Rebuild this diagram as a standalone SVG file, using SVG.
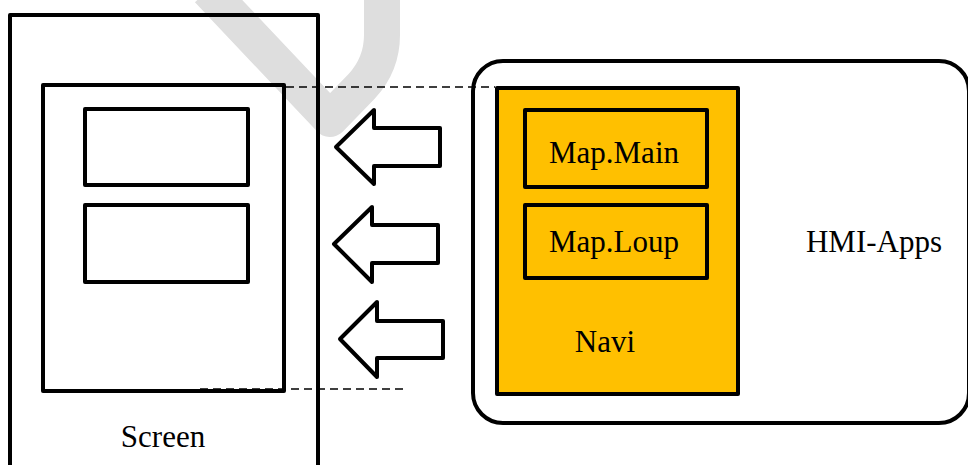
<svg xmlns="http://www.w3.org/2000/svg" width="968" height="465" viewBox="0 0 968 465">
<style>
.box{fill:none;stroke:#000;stroke-width:4;stroke-linejoin:round}
.win{fill:#fff;stroke:#000;stroke-width:4;stroke-linejoin:round}
.navi{fill:#FFC000;stroke:#000;stroke-width:4;stroke-linejoin:round}
.lbl{font-family:"Liberation Serif","Times New Roman",serif;font-size:31px;fill:#000;text-anchor:middle}
.dash{fill:none;stroke:#000;stroke-width:1.5;stroke-dasharray:8 5}
.arrow{fill:#fff;stroke:#000;stroke-width:4;stroke-linejoin:round}
</style>
<rect width="968" height="465" fill="#fff"/>
<path d="M208,-10 L330,119 L362,86 Q382,64 382,35 L382,-10" fill="none" stroke="#DEDEDE" stroke-width="36" stroke-linejoin="round"/>
<g id="screen">
<rect class="box" x="10" y="15" width="308" height="470"/>
<rect class="box" x="43" y="85" width="241" height="306"/>
<rect class="box" x="85" y="109" width="163" height="76"/>
<rect class="box" x="85" y="205" width="163" height="77"/>
<text class="lbl" x="163" y="447">Screen</text>
</g>
<g id="hmi-apps">
<rect class="box" x="473" y="61" width="496" height="362" rx="30" ry="30"/>
<text class="lbl" x="874" y="252">HMI-Apps</text>
</g>
<g id="navi">
<rect class="navi" x="497" y="88" width="241" height="306"/>
<text class="lbl" x="605" y="352">Navi</text>
</g>
<g id="map-main">
<rect class="navi" x="525" y="110" width="182" height="77"/>
<text class="lbl" x="614" y="163">Map.Main</text>
</g>
<g id="map-loup">
<rect class="navi" x="525" y="205" width="182" height="73"/>
<text class="lbl" x="614" y="252">Map.Loup</text>
</g>
<g id="connectors">
<line class="dash" x1="286" y1="87" x2="495" y2="87"/>
<line class="dash" x1="200" y1="389" x2="403" y2="389"/>
<path class="arrow" d="M336,147 L374,110 L374,128 L440,128 L440,166 L374,166 L374,184 Z"/>
<path class="arrow" d="M334,244 L372,207 L372,225 L438,225 L438,263 L372,263 L372,282 Z"/>
<path class="arrow" d="M340,339 L377,302 L377,321 L443,321 L443,358 L377,358 L377,377 Z"/>
</g>
</svg>
